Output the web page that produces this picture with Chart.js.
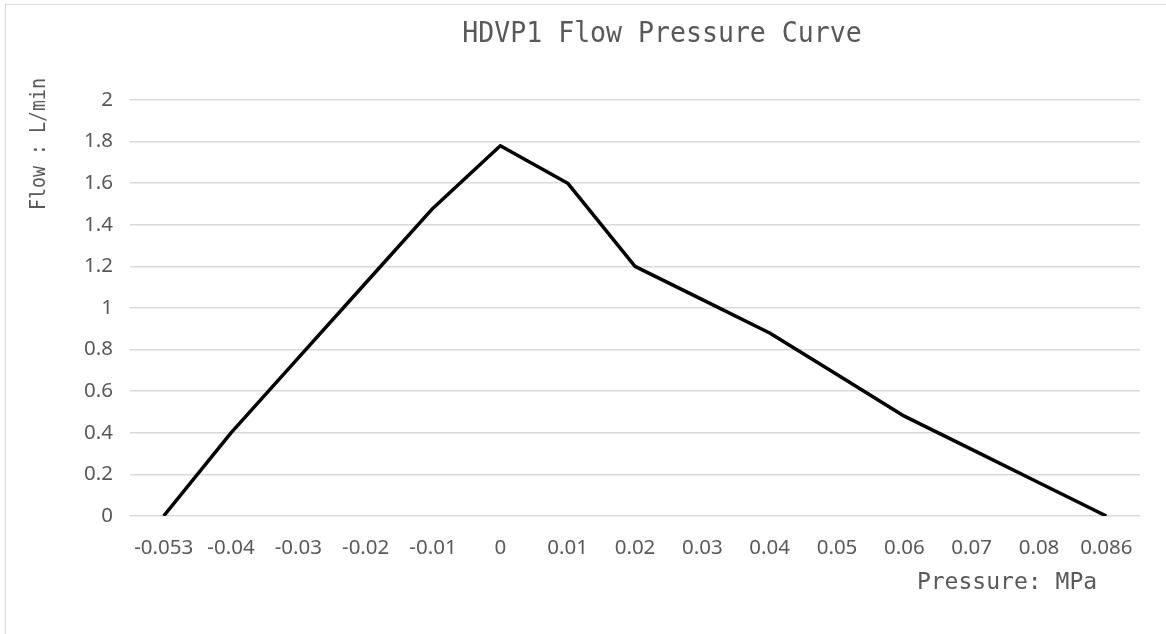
<!DOCTYPE html>
<html>
<head>
<meta charset="utf-8">
<script src="https://cdn.jsdelivr.net/npm/chart.js@4"></script>
<style>
  html, body { margin: 0; padding: 0; background: #fff; }
  #wrap { position: relative; width: 1166px; height: 634px; overflow: hidden; }
  #frame { position: absolute; left: 5px; top: 4px; width: 1200px; height: 700px;
           border-left: 1.5px solid #d9d9d9; border-top: 1.5px solid #d9d9d9; }
  canvas { position: absolute; left: 0; top: 0; }
</style>
</head>
<body>
<div id="wrap">
  <div id="frame"></div>
  <canvas id="flowChart" width="1166" height="634"></canvas>
</div>
<script>
const pressureLabels = ['-0.053', '-0.04', '-0.03', '-0.02', '-0.01', '0', '0.01', '0.02',
                        '0.03', '0.04', '0.05', '0.06', '0.07', '0.08', '0.086'];
const flowValues = [0, 0.4, 0.76, 1.12, 1.48, 1.78, 1.6, 1.2, 1.04, 0.88, 0.68, 0.48, 0.32, 0.16, 0];

const chartTitle = 'HDVP1 Flow Pressure Curve';
const yTitle = 'Flow : L/min';
const xTitle = 'Pressure: MPa';

const textGray = '#595959';
const gridGray = '#d9d9d9';
const monoFont = '"DejaVu Sans Mono", "Liberation Mono", monospace';
const tickFont = { family: '"Noto Sans", "Open Sans", sans-serif', size: 20.5 };

// draw text squeezed along its run, to mimic the narrow CJK-font latin of the original
function narrowText(ctx, text, x, y, size, squeeze, angle) {
  ctx.save();
  ctx.translate(x, y);
  if (angle) ctx.rotate(angle);
  ctx.scale(squeeze, 1);
  ctx.font = size + 'px ' + monoFont;
  ctx.fillText(text, 0, 0);
  ctx.restore();
}

// titles are placed like the Excel original, not centred on the plot
const titlesPlugin = {
  id: 'titles',
  afterDraw(chart) {
    const ctx = chart.ctx;
    ctx.save();
    ctx.fillStyle = textGray;
    ctx.textAlign = 'center';
    ctx.textBaseline = 'alphabetic';
    narrowText(ctx, chartTitle, 662, 42, 27.5, 0.965, 0);
    narrowText(ctx, xTitle, 1007, 589, 23.5, 0.98, 0);
    narrowText(ctx, yTitle, 45, 144, 22, 0.83, -Math.PI / 2);
    ctx.restore();
  }
};

const ctxFlow = document.getElementById('flowChart').getContext('2d');

const flowChart = new Chart(ctxFlow, {
  type: 'line',
  data: {
    labels: pressureLabels,
    datasets: [{
      label: 'Flow',
      data: flowValues,
      borderColor: '#000',
      borderWidth: 3.5,
      borderJoinStyle: 'round',
      pointRadius: 0,
      tension: 0,
      fill: false
    }]
  },
  options: {
    responsive: false,
    animation: false,
    layout: { padding: { left: 80, right: 26, top: 100, bottom: 78 } },
    plugins: {
      legend: { display: false },
      title: { display: false },
      tooltip: { enabled: false }
    },
    scales: {
      x: {
        type: 'category',
        offset: true,
        grid: { display: false },
        border: { display: false },
        ticks: {
          color: textGray,
          font: tickFont,
          padding: 12,
          maxRotation: 0,
          autoSkip: false
        },
        afterFit(scale) { scale.height = 40; }
      },
      y: {
        min: 0,
        max: 2,
        grid: { color: gridGray, lineWidth: 1.5, drawTicks: false },
        border: { display: false },
        ticks: {
          stepSize: 0.2,
          color: textGray,
          font: tickFont,
          padding: 17,
          callback: v => String(Math.round(v * 10) / 10)
        },
        afterFit(scale) { scale.width = 50; }
      }
    }
  },
  plugins: [titlesPlugin]
});
</script>
</body>
</html>
